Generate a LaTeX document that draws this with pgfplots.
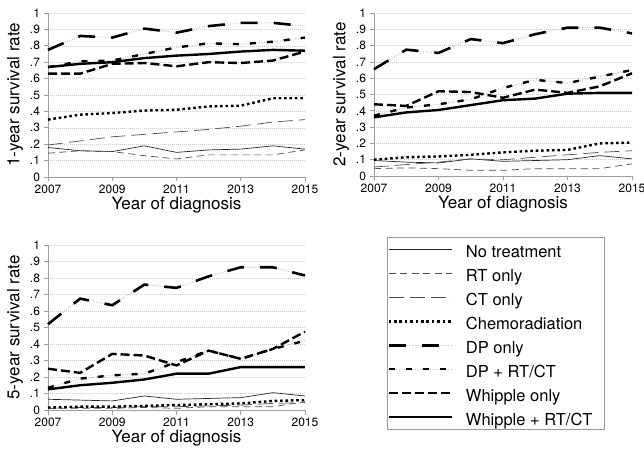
\documentclass[border=0pt]{standalone}
\usepackage{fontspec}
\setmainfont{TeX Gyre Heros}
\usepackage{pgfplots}
\usepackage{pgfplotstable}
\pgfplotsset{compat=1.18}

\pgfplotstableread{
year notr rt ct chemo dp dprt wo wrt
2007 0.180 0.145 0.195 0.350 0.775 0.670 0.630 0.670
2008 0.160 0.160 0.220 0.380 0.860 0.705 0.630 0.690
2009 0.155 0.155 0.245 0.390 0.850 0.710 0.690 0.700
2010 0.190 0.130 0.260 0.405 0.905 0.750 0.695 0.725
2011 0.150 0.110 0.275 0.410 0.880 0.790 0.675 0.740
2012 0.165 0.135 0.290 0.430 0.920 0.815 0.700 0.750
2013 0.170 0.135 0.310 0.435 0.940 0.810 0.695 0.765
2014 0.190 0.135 0.335 0.480 0.940 0.825 0.710 0.775
2015 0.170 0.165 0.350 0.480 0.920 0.850 0.765 0.770
}\tabone

\pgfplotstableread{
year notr rt ct chemo dp dprt wo wrt
2007 0.095 0.045 0.055 0.100 0.655 0.370 0.440 0.360
2008 0.085 0.050 0.070 0.115 0.775 0.420 0.430 0.390
2009 0.080 0.045 0.085 0.120 0.755 0.440 0.520 0.405
2010 0.105 0.035 0.105 0.130 0.840 0.470 0.515 0.435
2011 0.090 0.035 0.100 0.145 0.815 0.540 0.480 0.465
2012 0.095 0.045 0.115 0.155 0.870 0.590 0.530 0.475
2013 0.100 0.045 0.130 0.160 0.910 0.570 0.510 0.505
2014 0.125 0.045 0.145 0.200 0.910 0.610 0.550 0.510
2015 0.105 0.075 0.155 0.205 0.875 0.650 0.630 0.510
}\tabtwo

\pgfplotstableread{
year notr rt ct chemo dp dprt wo wrt
2007 0.065 0.010 0.010 0.015 0.520 0.135 0.250 0.125
2008 0.060 0.010 0.015 0.020 0.675 0.190 0.225 0.150
2009 0.055 0.010 0.015 0.020 0.635 0.210 0.340 0.165
2010 0.085 0.015 0.020 0.025 0.760 0.220 0.330 0.185
2011 0.065 0.010 0.020 0.030 0.740 0.290 0.270 0.220
2012 0.070 0.020 0.025 0.035 0.810 0.360 0.360 0.220
2013 0.075 0.020 0.030 0.040 0.865 0.310 0.310 0.260
2014 0.105 0.020 0.040 0.055 0.865 0.370 0.370 0.260
2015 0.085 0.050 0.045 0.060 0.815 0.420 0.475 0.260
}\tabthree

\pgfplotsset{
  notr/.style={black!85, line width=0.7bp},
  rt/.style={black!70, line width=0.7bp, dash pattern=on 7bp off 4.5bp},
  ct/.style={black!70, line width=0.7bp, dash pattern=on 15bp off 6bp},
  chemo/.style={black, line width=2.4bp, dash pattern=on 2.6bp off 2.8bp},
  dp/.style={black, line width=2.6bp, dash pattern=on 17bp off 16bp,
    preaction={draw, gray!45, line width=1.1bp, dash pattern=on 1bp off 1.6bp}},
  dprt/.style={black, line width=2.4bp, dash pattern=on 6bp off 11bp,
    preaction={draw, gray!45, line width=1.1bp, dash pattern=on 1bp off 1.6bp}},
  wo/.style={black, line width=2.4bp, dash pattern=on 9bp off 4bp},
  wrt/.style={black, line width=2.4bp},
  panel/.style={
    scale only axis,
    xmin=2007, xmax=2015, ymin=0, ymax=1,
    enlargelimits=false,
    axis lines=left,
    axis line style={-, gray!75, line width=0.7bp},
    xtick={2007,2009,2011,2013,2015},
    xticklabels={2007,2009,2011,2013,2015},
    ytick={0,0.1,0.2,0.3,0.4,0.5,0.6,0.7,0.8,0.9,1},
    yticklabels={0,.1,.2,.3,.4,.5,.6,.7,.8,.9,1},
    ymajorgrids,
    grid style={draw=gray!40, line width=0.5bp, dash pattern=on 1bp off 1bp},
    tick style={gray!75, line width=0.7bp},
    tick align=outside,
    major tick length=4.5bp,
    ticklabel style={font=\fontsize{12bp}{14bp}\selectfont},
    label style={font=\fontsize{17bp}{20bp}\selectfont},
    xlabel={Year of diagnosis},
    xlabel style={at={(axis description cs:0.5,-0.17)}, anchor=center},
    ylabel style={at={(axis description cs:-0.128,0.5)}, anchor=center},
    clip=false,
    legend image code/.code={\draw[##1] (0bp,0bp) -- (63bp,0bp);},
  },
}

\begin{document}
\begin{tikzpicture}
\path[use as bounding box] (0,0) rectangle (644bp,449bp);

\begin{axis}[panel, at={(48bp,272bp)}, width=257bp, height=164bp,
  ylabel={1-year survival rate}]
\addplot[notr] table[x=year,y=notr]{\tabone};
\addplot[rt] table[x=year,y=rt]{\tabone};
\addplot[ct] table[x=year,y=ct]{\tabone};
\addplot[chemo] table[x=year,y=chemo]{\tabone};
\addplot[dp] table[x=year,y=dp]{\tabone};
\addplot[dprt] table[x=year,y=dprt]{\tabone};
\addplot[wo] table[x=year,y=wo]{\tabone};
\addplot[wrt] table[x=year,y=wrt]{\tabone};
\end{axis}

\begin{axis}[panel, at={(374bp,273bp)}, width=258bp, height=163bp,
  ylabel={2-year survival rate}]
\addplot[notr] table[x=year,y=notr]{\tabtwo};
\addplot[rt] table[x=year,y=rt]{\tabtwo};
\addplot[ct] table[x=year,y=ct]{\tabtwo};
\addplot[chemo] table[x=year,y=chemo]{\tabtwo};
\addplot[dp] table[x=year,y=dp]{\tabtwo};
\addplot[dprt] table[x=year,y=dprt]{\tabtwo};
\addplot[wo] table[x=year,y=wo]{\tabtwo};
\addplot[wrt] table[x=year,y=wrt]{\tabtwo};
\end{axis}

\begin{axis}[panel, at={(48bp,39bp)}, width=257bp, height=165bp,
  ylabel={5-year survival rate},
  legend style={at={(axis description cs:1.319,1.0485)}, anchor=north west,
    draw=gray!80, line width=0.8bp, inner xsep=0bp, inner ysep=0bp,
    row sep=0bp, column sep=0bp,
    font=\fontsize{16.5bp}{19bp}\selectfont,
    cells={anchor=west, inner sep=0bp}}]
\addplot[notr] table[x=year,y=notr]{\tabthree};
\addlegendentry{\makebox[147bp][l]{\rule[-5.5bp]{0bp}{24bp}\hspace*{11bp}No treatment}}
\addplot[rt] table[x=year,y=rt]{\tabthree};
\addlegendentry{\makebox[147bp][l]{\rule[-5.5bp]{0bp}{24bp}\hspace*{11bp}RT only}}
\addplot[ct] table[x=year,y=ct]{\tabthree};
\addlegendentry{\makebox[147bp][l]{\rule[-5.5bp]{0bp}{24bp}\hspace*{11bp}CT only}}
\addplot[chemo] table[x=year,y=chemo]{\tabthree};
\addlegendentry{\makebox[147bp][l]{\rule[-5.5bp]{0bp}{24bp}\hspace*{11bp}Chemoradiation}}
\addplot[dp] table[x=year,y=dp]{\tabthree};
\addlegendentry{\makebox[147bp][l]{\rule[-5.5bp]{0bp}{24bp}\hspace*{11bp}DP only}}
\addplot[dprt] table[x=year,y=dprt]{\tabthree};
\addlegendentry{\makebox[147bp][l]{\rule[-5.5bp]{0bp}{24bp}\hspace*{11bp}DP + RT/CT}}
\addplot[wo] table[x=year,y=wo]{\tabthree};
\addlegendentry{\makebox[147bp][l]{\rule[-5.5bp]{0bp}{24bp}\hspace*{11bp}Whipple only}}
\addplot[wrt] table[x=year,y=wrt]{\tabthree};
\addlegendentry{\makebox[147bp][l]{\rule[-5.5bp]{0bp}{24bp}\hspace*{11bp}Whipple + RT/CT}}
\end{axis}
\end{tikzpicture}
\end{document}
